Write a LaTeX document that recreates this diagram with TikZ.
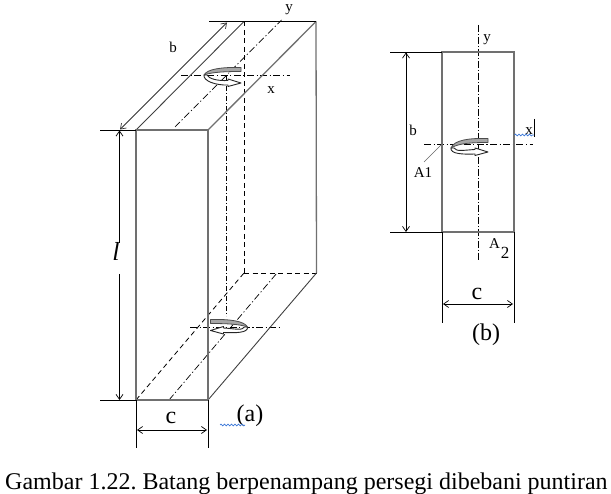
\documentclass[tikz,border=0pt]{standalone}
\usepackage{fontspec}
\setmainfont{Liberation Serif}
\frenchspacing
\usetikzlibrary{arrows.meta,decorations.pathmorphing}
\definecolor{edgegray}{HTML}{707070}
\definecolor{ribbongray}{HTML}{A6A6A6}
\definecolor{squiggle}{HTML}{3C78D8}
\tikzset{
  edge/.style={draw=edgegray,line width=1.3pt},
  thin edge/.style={draw=black!75,line width=0.9pt},
  ext/.style={draw=black,line width=0.9pt},
  hidden/.style={draw=black,line width=0.8pt,dash pattern=on 5pt off 3.5pt},
  axis/.style={draw=black,line width=0.7pt,dash pattern=on 7pt off 2.5pt on 1.2pt off 2.5pt},
  dim/.style={draw=black,line width=0.9pt,{Straight Barb[length=5pt,width=7pt,line width=0.7pt]}-{Straight Barb[length=5pt,width=7pt,line width=0.7pt]}},
  lab/.style={inner sep=0pt,font=\fontsize{15}{15}\selectfont},
  biglab/.style={inner sep=0pt,font=\fontsize{24}{24}\selectfont},
  spell/.style={draw=squiggle,line width=0.7pt,decorate,decoration={snake,amplitude=0.9pt,segment length=3.5pt}}
}
% #1 origin x, #2 origin y, #3 xscale, #4 shift of the ribbon end, #5 shift of the arrow head
\newcommand{\curlarrow}[5]{%
  \begin{scope}[shift={(#1,#2)},xscale=#3]
    \draw[black!85,line width=0.9pt,fill=white,line join=round]
      (0,0) .. controls (-1,6) and (12,#5+10.5) .. (24,#5+10)
      -- (24,#5+11.5) -- (37,#5+8) -- (24,#5+4) -- (24,#5+5.5)
      .. controls (14,#5+6) and (5,4) .. (3,0) -- cycle;
    \draw[black!70,line width=0.8pt,fill=ribbongray,line join=round]
      (37,#4-7.5) .. controls (18,#4-8) and (3,#4-6) .. (0,0)
      .. controls (8,#4-3) and (22,#4-3.5) .. (37,#4-3.5) -- cycle;
  \end{scope}}
\begin{document}
\begin{tikzpicture}[x=1pt,y=-1pt]
\useasboundingbox (0,0) rectangle (611,494);
% figure (a) corners
\coordinate (ftl) at (136,130);
\coordinate (ftr) at (208,130);
\coordinate (fbl) at (136,400);
\coordinate (fbr) at (208,400);
\coordinate (btl) at (244,21.5);
\coordinate (btr) at (316,21.5);
\coordinate (bbl) at (244,273);
\coordinate (bbr) at (316.5,273);
% hidden lines and axes of (a)
\draw[hidden] (btl) -- (bbl);
\draw[hidden] (bbl) -- (bbr);
\draw[hidden] (fbl) -- (bbl);
\coordinate (axT1) at (175,127); \coordinate (axT2) at (281.5,20);
\coordinate (axB1) at (169,400); \coordinate (axB2) at (277,273);
\coordinate (axV1) at (226.5,76); \coordinate (axV2) at (226.5,316);
\coordinate (axH1) at (181,75); \coordinate (axH2) at (290,75);
\coordinate (axH3) at (190,327); \coordinate (axH4) at (281,327);
\draw[axis] (axT1) -- (axT2);
\draw[axis] (axB1) -- (axB2);
\draw[axis,dash pattern=on 5pt off 2pt on 1pt off 2pt] (axV1) -- (axV2);
\draw[axis] (axH1) -- (axH2);
\draw[axis] (axH3) -- (axH4);
% solid box of (a)
\draw[thin edge] (ftl) -- (btl);
\draw[edge] (ftr) -- (btr);
\draw[edge] (btr) -- (bbr);
\draw[thin edge] (fbr) -- (bbr);
\draw[edge] (ftl) rectangle (fbr);
% extension lines of (a)
\coordinate (e1) at (100,130); \coordinate (e2) at (100,400);
\coordinate (e3) at (209,21.5);
\coordinate (e4) at (136,448); \coordinate (e5) at (208,448);
\draw[ext] (e1) -- (ftl);
\draw[ext] (e2) -- (fbl);
\draw[ext] (e3) -- (btr);
\draw[ext] (fbl) -- (e4);
\draw[ext] (fbr) -- (e5);
% dimensions of (a)
\coordinate (bd1) at (120,129.5); \coordinate (bd2) at (227,22.5);
\draw[dim,draw=black!80] (bd1) -- (bd2);
\coordinate (ld1) at (119.5,130.5); \coordinate (ld2) at (119.5,243);
\coordinate (ld3) at (119.5,274); \coordinate (ld4) at (119.5,400);
\draw[ext,-{Straight Barb[length=5pt,width=7pt,line width=0.7pt]}] (ld2) -- (ld1);
\draw[ext,-{Straight Barb[length=5pt,width=7pt,line width=0.7pt]}] (ld3) -- (ld4);
\coordinate (cd1) at (137,430); \coordinate (cd2) at (207,430);
\draw[dim] (cd1) -- (cd2);
\curlarrow{204}{75}{1}{0}{0}
\curlarrow{247.5}{327}{-1}{0}{-4.5}
\node[lab] (tb) at (173,47) {b};
\node[lab] (ty) at (289,10) {y};
\node[lab] (tx) at (271,90) {x};
\node[inner sep=0pt,font=\fontsize{26}{26}\selectfont\itshape] (tl) at (116,251) {l};
\node[biglab] (tc) at (171,418) {c};
\node[biglab] (ta) at (250,416) {(a)};
\coordinate (sq1) at (220,425); \coordinate (sq2) at (245,425);
\draw[spell] (sq1) -- (sq2);
% figure (b)
\coordinate (rtl) at (442,52);
\coordinate (rtr) at (514,52);
\coordinate (rbl) at (442,232);
\coordinate (rbr) at (514,232);
\coordinate (va1) at (478,25); \coordinate (va2) at (478,260);
\coordinate (ha1) at (424,144); \coordinate (ha2) at (533,144);
\draw[axis,dash pattern=on 7pt off 2pt on 1pt off 2pt] (va1) -- (va2);
\draw[axis] (ha1) -- (ha2);
\draw[edge] (rtl) rectangle (rbr);
\coordinate (f1) at (390,52); \coordinate (f2) at (390,232);
\coordinate (f3) at (442,323); \coordinate (f4) at (514,323);
\draw[ext] (f1) -- (rtl);
\draw[ext] (f2) -- (rbl);
\draw[ext] (rbl) -- (f3);
\draw[ext] (rbr) -- (f4);
\coordinate (bb1) at (406,52.5); \coordinate (bb2) at (406,232);
\draw[dim] (bb1) -- (bb2);
\coordinate (cc1) at (443,304); \coordinate (cc2) at (513,304);
\draw[dim] (cc1) -- (cc2);
\coordinate (lead) at (424,162);
\draw[draw=black!60,line width=0.7pt] (ha1 -| rtl) -- (lead);
\curlarrow{451}{148}{1}{-2}{-4}
\node[lab] (rb) at (413,130) {b};
\node[lab] (ry) at (487,40) {y};
\node[lab] (rx) at (529,131) {x};
\coordinate (bar1) at (534,119); \coordinate (bar2) at (534,137);
\draw[ext] (bar1) -- (bar2);
\coordinate (sq3) at (514.5,135); \coordinate (sq4) at (534,135);
\draw[spell] (sq3) -- (sq4);
\node[lab] (a1) at (423,173) {A1};
\node[lab] (a2) at (494.5,244) {A};
\node[inner sep=0pt,font=\fontsize{17}{17}\selectfont] (a2s) at (505,253) {2};
\node[biglab] (rc) at (477,294) {c};
\node[biglab] (rl) at (486,335) {(b)};
\node[inner sep=0pt,anchor=west,font=\fontsize{24}{24}\selectfont] (cap) at (5,484) {Gambar 1.22. Batang berpenampang persegi dibebani puntiran};
\end{tikzpicture}
\end{document}
